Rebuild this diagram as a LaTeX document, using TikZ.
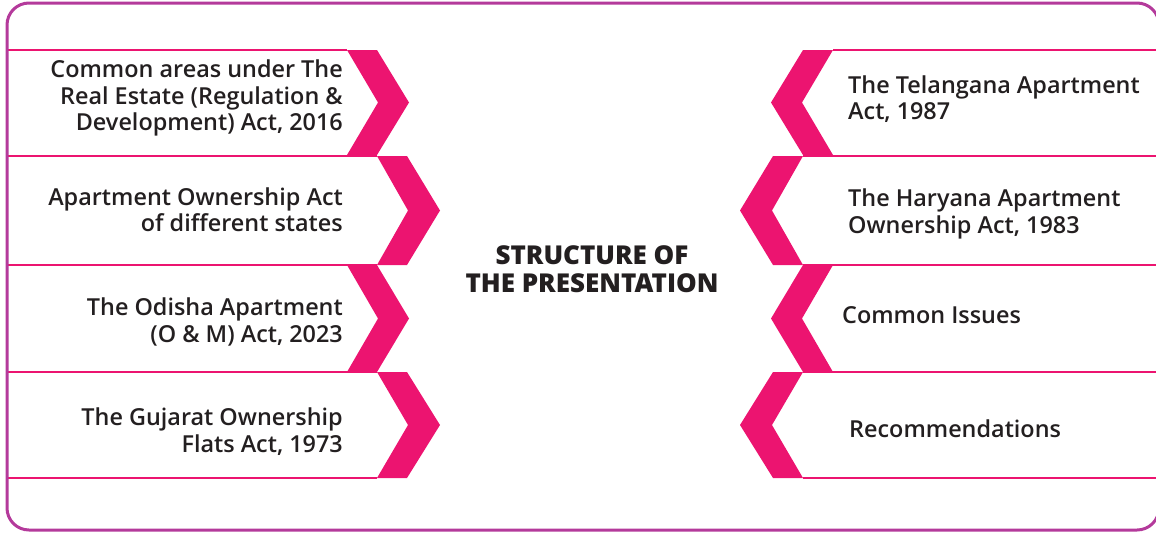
\documentclass[tikz,border=0pt]{standalone}
\usepackage{fontspec}
\setmainfont{Open Sans}
\IfFontExistsTF{Open Sans Semibold}{\newfontfamily\semi{Open Sans Semibold}}{%
  \IfFontExistsTF{Open Sans SemiBold}{\newfontfamily\semi{Open Sans SemiBold}}{\newfontfamily\semi{Open Sans}}}
\IfFontExistsTF{Open Sans Extrabold}{\newfontfamily\heavy{Open Sans Extrabold}}{%
  \IfFontExistsTF{Open Sans ExtraBold}{\newfontfamily\heavy{Open Sans ExtraBold}}{\newfontfamily\heavy{Open Sans Bold}}}
\definecolor{pinkc}{HTML}{EC1470}
\definecolor{framec}{HTML}{B43A9B}
\definecolor{ink}{HTML}{231F20}
\begin{document}
\begin{tikzpicture}[x=1pt,y=-1pt,
  chev/.style={fill=pinkc,draw=none},
  rule/.style={draw=pinkc,line width=2pt},
  frame/.style={draw=framec,line width=3pt,rounded corners=22pt},
  ltxt/.style={anchor=east,align=right,inner sep=0pt,text=ink,font=\semi\fontsize{23.4}{26.5}\selectfont},
  rtxt/.style={anchor=west,align=left,inner sep=0pt,text=ink,font=\semi\fontsize{23.4}{26.5}\selectfont},
  rtxtb/.style={anchor=base west,inner sep=0pt,text=ink,font=\semi\fontsize{23.4}{26.5}\selectfont},
  ttl/.style={align=center,inner sep=0pt,text=ink,font=\heavy\fontsize{26}{28}\selectfont}]
\useasboundingbox (0,0) rectangle (1156,533);
\begin{scope}
\clip (0,0) rectangle (1156,533);
% horizontal rules, left
\draw[rule] (8,50) -- (347,50);
\draw[rule] (8,155.5) -- (377,155.5);
\draw[rule] (8,265) -- (377,265);
\draw[rule] (8,372) -- (377,372);
\draw[rule] (8,478) -- (377,478);
% horizontal rules, right
\draw[rule] (833,50) -- (1156,50);
\draw[rule] (803,155.5) -- (1156,155.5);
\draw[rule] (803,265) -- (1156,265);
\draw[rule] (803,372) -- (1156,372);
\draw[rule] (803,478) -- (1156,478);
% chevrons left
\fill[chev] (347,50) -- (377,50) -- (409,102.5) -- (377,155) -- (347,155) -- (378,102.5) -- cycle;
\fill[chev] (377,156) -- (407,156) -- (440,210.5) -- (407,265) -- (377,265) -- (408,210.5) -- cycle;
\fill[chev] (347,265) -- (377,265) -- (409,318.5) -- (377,372) -- (347,372) -- (378,318.5) -- cycle;
\fill[chev] (377,372) -- (407,372) -- (440,425) -- (407,478) -- (377,478) -- (408,425) -- cycle;
% chevrons right
\fill[chev] (833,50) -- (803,50) -- (771,102.5) -- (803,155) -- (833,155) -- (802,102.5) -- cycle;
\fill[chev] (803,156) -- (773,156) -- (740,210.5) -- (773,265) -- (803,265) -- (772,210.5) -- cycle;
\fill[chev] (833,265) -- (803,265) -- (771,318.5) -- (803,372) -- (833,372) -- (802,318.5) -- cycle;
\fill[chev] (803,372) -- (773,372) -- (740,425) -- (773,478) -- (803,478) -- (772,425) -- cycle;
% frame (right side runs past the picture edge)
\draw[frame] (7,3) rectangle (1159,530);
\end{scope}
% texts
\node[ltxt] (l1) at (343,98) {Common areas under The\\Real Estate (Regulation \&\\Development) Act, 2016};
\node[ltxt] (l2) at (343,209.5) {Apartment Ownership Act\\of different states};
\node[ltxt] (l3) at (343,322) {The Odisha Apartment\\(O \& M) Act, 2023};
\node[ltxt] (l4) at (343,431.5) {The Gujarat Ownership\\Flats Act, 1973};
\node[rtxt] (r1) at (848,99) {The Telangana Apartment\\Act, 1987};
\node[rtxt] (r2) at (848,214) {The Haryana Apartment\\Ownership Act, 1983};
\node[rtxtb] (r3) at (842,323) {Common Issues};
\node[rtxtb] (r4) at (849,437) {Recommendations};
\node[ttl] (t) at (592,269) {STRUCTURE OF\\THE PRESENTATION};
\end{tikzpicture}
\end{document}
